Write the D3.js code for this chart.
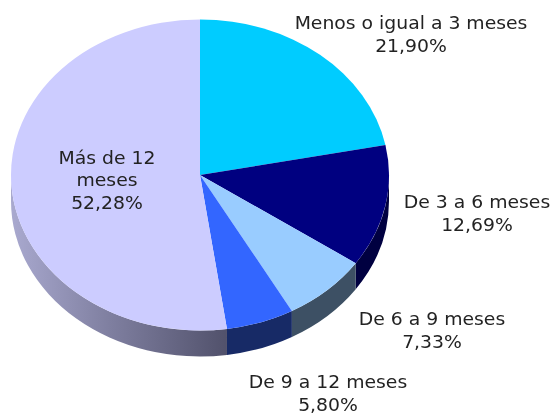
<!DOCTYPE html>
<html><head><meta charset="utf-8">
<script src="https://cdnjs.cloudflare.com/ajax/libs/d3/7.8.5/d3.min.js"></script>
<style>html,body{margin:0;padding:0;background:#fff}svg{display:block}</style></head>
<body><div id="c"></div>
<script>
const categories = ["Menos o igual a 3 meses","De 3 a 6 meses","De 6 a 9 meses","De 9 a 12 meses","Más de 12 meses"];
const values = [21.90,12.69,7.33,5.80,52.28];
const valueLabels = ["21,90%","12,69%","7,33%","5,80%","52,28%"];
const topColors = ["#00ccff","#000080","#99ccff","#3366ff","#ccccff"];
const wallColors = [null,"#000040","#3d5064","#172a66",null];
const labelLines = [["Menos o igual a 3 meses"],["De 3 a 6 meses"],["De 6 a 9 meses"],["De 9 a 12 meses"],["Más de 12","meses"]];
const labelCenters = [[411,29],[477,208],[432,325],[328,388],[107,163.5]];

const W=555,H=413,cx=200,cy=175,rx=189,ry=155.5,depth=26;
const svg=d3.select("#c").append("svg").attr("width",W).attr("height",H);
const defs=svg.append("defs");
const grad=defs.append("linearGradient").attr("id","wall").attr("gradientUnits","userSpaceOnUse")
  .attr("x1",cx-rx).attr("x2",cx+30).attr("y1",0).attr("y2",0);
grad.append("stop").attr("offset",0).attr("stop-color","#a9a9cf");
grad.append("stop").attr("offset",0.45).attr("stop-color","#7f7fa0");
grad.append("stop").attr("offset",1).attr("stop-color","#50506a");
defs.append("filter").attr("id","soft").append("feGaussianBlur").attr("stdDeviation",0.35);

const arcs=d3.pie().sort(null).value(d=>d)(values);
const px=a=>cx+rx*Math.sin(a), py=a=>cy-ry*Math.cos(a);

const g=svg.append("g");
arcs.forEach((d,i)=>{
  const a0=Math.max(d.startAngle,Math.PI/2), a1=Math.min(d.endAngle,3*Math.PI/2);
  if(a1<=a0) return;
  const large=(a1-a0)>Math.PI?1:0;
  const p=`M${px(a0)},${py(a0)}A${rx},${ry} 0 ${large} 1 ${px(a1)},${py(a1)}`+
    `L${px(a1)},${py(a1)+depth}A${rx},${ry} 0 ${large} 0 ${px(a0)},${py(a0)+depth}Z`;
  g.append("path").attr("d",p).attr("fill",wallColors[i]||"url(#wall)");
});
const arc=d3.arc().innerRadius(0).outerRadius(rx);
svg.append("g").attr("transform",`translate(${cx},${cy}) scale(1,${ry/rx})`)
  .selectAll("path").data(arcs).join("path").attr("d",arc).attr("fill",(d,i)=>topColors[i]);
const t=svg.append("g").attr("font-family","'DejaVu Sans',Verdana,sans-serif").attr("font-size",17.5).attr("fill","#222").attr("text-anchor","middle").attr("filter","url(#soft)");
categories.forEach((c,i)=>{
  const lines=labelLines[i].concat([valueLabels[i]]);
  lines.forEach((l,j)=>t.append("text")
    .attr("transform",`translate(${labelCenters[i][0]},${labelCenters[i][1]+j*22.7}) scale(1.075,1)`)
    .text(l));
});
</script></body></html>
